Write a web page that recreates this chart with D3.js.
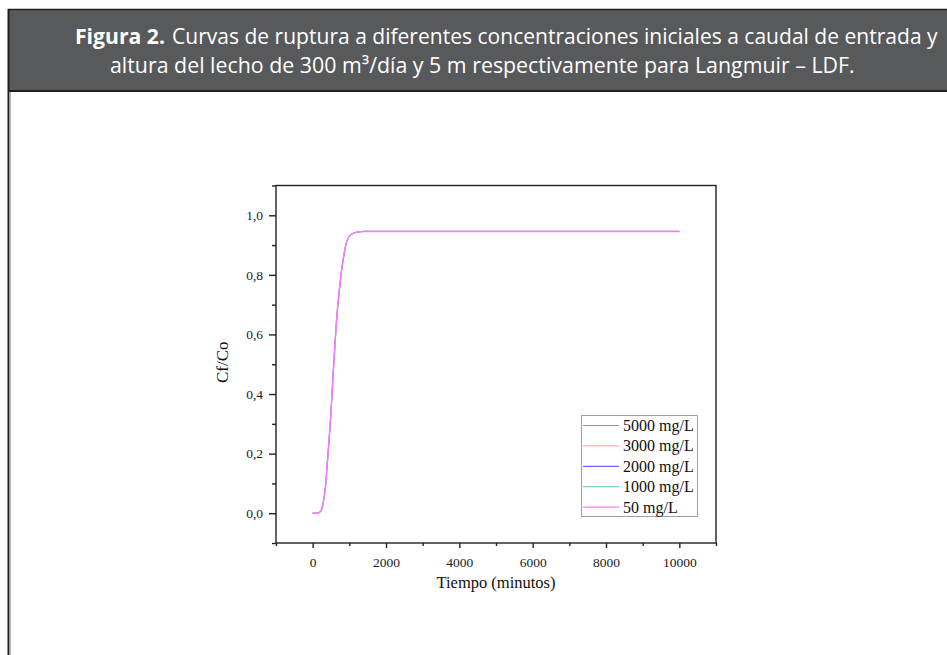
<!DOCTYPE html>
<html>
<head>
<meta charset="utf-8">
<script src="https://cdn.jsdelivr.net/npm/d3@7"></script>
<style>
  body { margin: 0; background: #fff; }
  svg { display: block; }
</style>
</head>
<body>
<svg id="chart" width="947" height="655"></svg>
<script>
// tiempo (minutos) and Cf/Co, all five curves overlap
const tiempo = [0, 100, 200, 250, 300, 350, 400, 450, 500, 550, 600, 650, 700, 750, 800, 850, 900, 950, 1000, 1100, 1200, 1300, 1400, 1600, 2000, 3000, 4000, 5000, 6000, 7000, 8000, 9000, 10000];
const cf5000 = [0, 0.0, 0.004, 0.015, 0.045, 0.09, 0.17, 0.25, 0.34, 0.45, 0.55, 0.645, 0.715, 0.775, 0.825, 0.865, 0.898, 0.918, 0.93, 0.939, 0.943, 0.945, 0.946, 0.946, 0.946, 0.946, 0.946, 0.946, 0.946, 0.946, 0.946, 0.946, 0.946];
const cf3000 = [0, 0.0, 0.004, 0.015, 0.045, 0.09, 0.17, 0.25, 0.34, 0.45, 0.55, 0.645, 0.715, 0.775, 0.825, 0.865, 0.898, 0.918, 0.93, 0.939, 0.943, 0.945, 0.946, 0.946, 0.946, 0.946, 0.946, 0.946, 0.946, 0.946, 0.946, 0.946, 0.946];
const cf2000 = [0, 0.0, 0.004, 0.015, 0.045, 0.09, 0.17, 0.25, 0.34, 0.45, 0.55, 0.645, 0.715, 0.775, 0.825, 0.865, 0.898, 0.918, 0.93, 0.939, 0.943, 0.945, 0.946, 0.946, 0.946, 0.946, 0.946, 0.946, 0.946, 0.946, 0.946, 0.946, 0.946];
const cf1000 = [0, 0.0, 0.004, 0.015, 0.045, 0.09, 0.17, 0.25, 0.34, 0.45, 0.55, 0.645, 0.715, 0.775, 0.825, 0.865, 0.898, 0.918, 0.93, 0.939, 0.943, 0.945, 0.946, 0.946, 0.946, 0.946, 0.946, 0.946, 0.946, 0.946, 0.946, 0.946, 0.946];
const cf50   = [0, 0.0, 0.004, 0.015, 0.045, 0.09, 0.17, 0.25, 0.34, 0.45, 0.55, 0.645, 0.715, 0.775, 0.825, 0.865, 0.898, 0.918, 0.93, 0.939, 0.943, 0.945, 0.946, 0.946, 0.946, 0.946, 0.946, 0.946, 0.946, 0.946, 0.946, 0.946, 0.946];

const seriesNames = ["5000 mg/L", "3000 mg/L", "2000 mg/L", "1000 mg/L", "50 mg/L"];
const seriesValues = [cf5000, cf3000, cf2000, cf1000, cf50];
const seriesColors = ["#9a9a9a", "#ffb3b3", "#6a6aff", "#7ccfc6", "#f77cf7"];

const xMajor = [0, 2000, 4000, 6000, 8000, 10000];
const xMinor = [-1000, 1000, 3000, 5000, 7000, 9000, 11000];
const yMajor = [0, 0.2, 0.4, 0.6, 0.8, 1.0];
const yMinor = [-0.1, 0.1, 0.3, 0.5, 0.7, 0.9, 1.1];

const svg = d3.select("#chart");

// header band
svg.append("rect")
  .attr("x", 8).attr("y", 9)
  .attr("width", 950).attr("height", 82)
  .attr("fill", "#58595b");
svg.append("line").attr("x1", 8).attr("x2", 947).attr("y1", 9.5).attr("y2", 9.5)
  .attr("stroke", "#231f20").attr("stroke-width", 1.5);
svg.append("line").attr("x1", 8).attr("x2", 947).attr("y1", 91).attr("y2", 91)
  .attr("stroke", "#231f20").attr("stroke-width", 2);
svg.append("line").attr("x1", 8.5).attr("x2", 8.5).attr("y1", 9).attr("y2", 655)
  .attr("stroke", "#231f20").attr("stroke-width", 2);
svg.append("line").attr("x1", 10.3).attr("x2", 10.3).attr("y1", 92).attr("y2", 655)
  .attr("stroke", "#b5b5b5").attr("stroke-width", 1.2);

// header text squeezed horizontally to the width it takes in the figure
const headFont = "'Open Sans', 'Noto Sans', sans-serif";
function headerText(str, x0, y0, width, bold) {
  const t = svg.append("text")
    .attr("font-family", headFont).attr("font-size", 21.5)
    .attr("font-weight", bold ? "bold" : "normal")
    .attr("fill", "#fff")
    .text(str);
  const natural = t.node().getComputedTextLength();
  t.attr("transform", `translate(${x0},${y0}) scale(${width / natural},1)`);
}
headerText("Figura 2.", 75, 44, 90, true);
headerText("Curvas de ruptura a diferentes concentraciones iniciales a caudal de entrada y", 172, 44, 766, false);
headerText("altura del lecho de 300 m³/día y 5 m respectivamente para Langmuir – LDF.", 110, 73, 745, false);

// plot area
const plotLeft = 276, plotRight = 716, plotTop = 185.5, plotBottom = 543;
const x = d3.scaleLinear().domain([-1000, 11000]).range([plotLeft, plotRight]);
const y = d3.scaleLinear().domain([-0.1, 1.1]).range([plotBottom, plotTop]);

const serif = "'Liberation Serif', 'Times New Roman', serif";
const axisColor = "#222";

// frame
svg.append("rect")
  .attr("x", plotLeft).attr("y", plotTop)
  .attr("width", plotRight - plotLeft).attr("height", plotBottom - plotTop)
  .attr("fill", "none").attr("stroke", axisColor).attr("stroke-width", 1.4);

// x axis
const xAxis = svg.append("g").attr("transform", `translate(0,${plotBottom})`);
xAxis.call(d3.axisBottom(x).tickValues(xMajor).tickSize(5).tickPadding(9).tickFormat(d3.format("d")));
xAxis.append("g").call(d3.axisBottom(x).tickValues(xMinor).tickSize(3).tickFormat(""));
xAxis.selectAll(".domain").remove();
xAxis.selectAll("line").attr("stroke", axisColor).attr("stroke-width", 1.4);
xAxis.selectAll("text").attr("font-family", serif).attr("font-size", 13.5).attr("fill", "#222");

// y axis
const yAxis = svg.append("g").attr("transform", `translate(${plotLeft},0)`);
yAxis.call(d3.axisLeft(y).tickValues(yMajor).tickSize(7).tickPadding(6).tickFormat(d => d3.format(".1f")(d).replace(".", ",")));
yAxis.append("g").call(d3.axisLeft(y).tickValues(yMinor).tickSize(4).tickFormat(""));
yAxis.selectAll(".domain").remove();
yAxis.selectAll("line").attr("stroke", axisColor).attr("stroke-width", 1.4);
yAxis.selectAll("text").attr("font-family", serif).attr("font-size", 13.5).attr("fill", "#222");

// axis titles
svg.append("text")
  .attr("x", (plotLeft + plotRight) / 2).attr("y", 588)
  .attr("text-anchor", "middle")
  .attr("font-family", serif).attr("font-size", 16.5).attr("fill", "#111")
  .text("Tiempo (minutos)");

svg.append("text")
  .attr("transform", `translate(228,${(plotTop + plotBottom) / 2 - 2}) rotate(-90)`)
  .attr("text-anchor", "middle")
  .attr("font-family", serif).attr("font-size", 17).attr("fill", "#111")
  .text("Cf/Co");

// curves
const line = d3.line()
  .x((d, i) => x(tiempo[i]))
  .y(d => y(d))
  .curve(d3.curveMonotoneX);

seriesValues.forEach((vals, k) => {
  svg.append("path")
    .datum(vals)
    .attr("d", line)
    .attr("fill", "none")
    .attr("stroke", seriesColors[k])
    .attr("stroke-width", k === seriesValues.length - 1 ? 1.5 : 0.9);
});

// legend
const legX = 581, legY = 415;
svg.append("rect")
  .attr("x", legX + 0.5).attr("y", legY + 0.5)
  .attr("width", 116).attr("height", 101)
  .attr("fill", "#fff").attr("stroke", "#a0a0a0").attr("stroke-width", 1);

seriesNames.forEach((name, k) => {
  const yy = legY + 10.5 + k * 20.4;
  svg.append("line")
    .attr("x1", legX + 2).attr("x2", legX + 38)
    .attr("y1", yy).attr("y2", yy)
    .attr("stroke", seriesColors[k]).attr("stroke-width", 1.2);
  svg.append("text")
    .attr("x", legX + 42).attr("y", yy + 5.5)
    .attr("font-family", serif).attr("font-size", 16).attr("fill", "#111")
    .text(name);
});
</script>
</body>
</html>
